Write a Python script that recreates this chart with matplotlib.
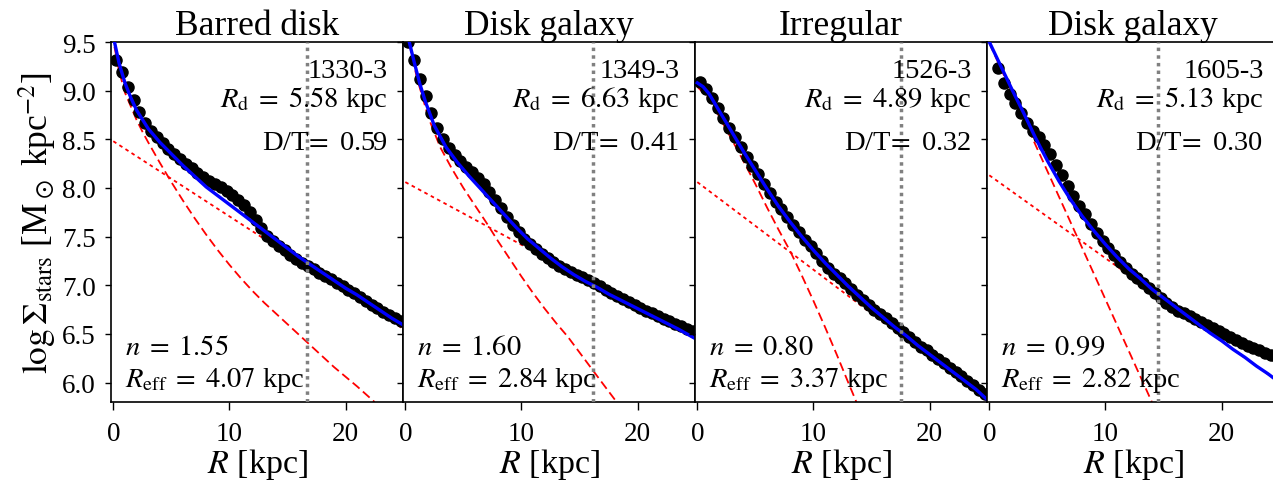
"""Surface-density profiles of four galaxies with bulge+disk decomposition."""
import matplotlib

matplotlib.use("Agg")
import matplotlib.pyplot as plt  # noqa: E402

plt.rcParams["font.family"] = "serif"
plt.rcParams["font.serif"] = ["Liberation Serif", "DejaVu Serif"]
plt.rcParams["mathtext.fontset"] = "stix"

# ---- values ----
TITLES = ["Barred disk", "Disk galaxy", "Irregular", "Disk galaxy"]
GAL_IDS = ["1330-3", "1349-3", "1526-3", "1605-3"]
R_DISK = [5.58, 6.63, 4.89, 5.13]
D_OVER_T = [0.59, 0.41, 0.32, 0.30]
SERSIC_N = [1.55, 1.60, 0.80, 0.99]
R_EFF = [4.07, 2.84, 3.37, 2.82]
R_MARK = [16.7, 16.2, 17.5, 14.5]  # grey dotted vertical line

R_KPC = [0.25, 0.75, 1.25, 1.75, 2.25, 2.75, 3.25, 3.75, 4.25, 4.75,
         5.25, 5.75, 6.25, 6.75, 7.25, 7.75, 8.25, 8.75, 9.25, 9.75,
         10.25, 10.75, 11.25, 11.75, 12.25, 12.75, 13.25, 13.75, 14.25, 14.75,
         15.25, 15.75, 16.25, 16.75, 17.25, 17.75, 18.25, 18.75, 19.25, 19.75,
         20.25, 20.75, 21.25, 21.75, 22.25, 22.75, 23.25, 23.75, 24.25, 24.75]

SIGMA_1330 = [9.31, 9.19, 9.04, 8.90, 8.78, 8.67, 8.59, 8.52, 8.46, 8.40,
              8.35, 8.30, 8.25, 8.20, 8.15, 8.11, 8.07, 8.04, 8.01, 7.97,
              7.93, 7.88, 7.82, 7.75, 7.67, 7.59, 7.51, 7.45, 7.40, 7.36,
              7.31, 7.27, 7.23, 7.20, 7.17, 7.13, 7.10, 7.06, 7.02, 6.99,
              6.95, 6.92, 6.88, 6.84, 6.80, 6.77, 6.73, 6.69, 6.66, 6.63]
SIGMA_1349 = [9.50, 9.31, 9.12, 8.94, 8.77, 8.62, 8.50, 8.41, 8.34, 8.28,
              8.22, 8.16, 8.10, 8.04, 7.96, 7.88, 7.79, 7.70, 7.62, 7.55,
              7.48, 7.42, 7.37, 7.32, 7.28, 7.24, 7.20, 7.17, 7.14, 7.11,
              7.08, 7.05, 7.02, 6.99, 6.95, 6.92, 6.89, 6.86, 6.83, 6.80,
              6.77, 6.74, 6.71, 6.68, 6.65, 6.63, 6.60, 6.58, 6.55, 6.53]
SIGMA_1526 = [9.09, 9.02, 8.92, 8.82, 8.72, 8.62, 8.52, 8.42, 8.32, 8.23,
              8.14, 8.04, 7.95, 7.86, 7.78, 7.70, 7.62, 7.55, 7.47, 7.40,
              7.33, 7.25, 7.18, 7.12, 7.07, 7.02, 6.96, 6.90, 6.85, 6.80,
              6.75, 6.70, 6.66, 6.61, 6.56, 6.52, 6.47, 6.42, 6.37, 6.33,
              6.28, 6.24, 6.20, 6.15, 6.11, 6.07, 6.02, 5.97, 5.92, 5.88]
SIGMA_1605 = [float("nan"), 9.23, 9.08, 8.97, 8.87, 8.77, 8.67, 8.59, 8.52, 8.44,
              8.35, 8.24, 8.13, 8.02, 7.92, 7.81, 7.73, 7.63, 7.54, 7.45,
              7.38, 7.31, 7.24, 7.18, 7.12, 7.07, 7.02, 6.97, 6.92, 6.87,
              6.82, 6.78, 6.74, 6.71, 6.68, 6.65, 6.62, 6.59, 6.56, 6.53,
              6.50, 6.47, 6.44, 6.41, 6.38, 6.35, 6.33, 6.30, 6.28, 6.26]

# total fit (blue)
FIT_R_1330 = [0.1, 0.5, 1.0, 1.5, 2.0, 3.0, 4.0, 5.0, 6.0, 7.0, 8.0, 9.0, 10.0, 11.0,
              12.0, 13.0, 14.0, 15.0, 16.0, 17.0, 18.0, 19.0, 20.0, 21.0, 22.0, 23.0, 24.0, 25.0]
FIT_1330 = [9.50, 9.28, 9.08, 8.93, 8.80, 8.61, 8.47, 8.35, 8.23, 8.12, 8.01, 7.92, 7.83, 7.74,
            7.65, 7.56, 7.47, 7.38, 7.29, 7.21, 7.13, 7.05, 6.97, 6.90, 6.82, 6.74, 6.66, 6.59]
FIT_R_1349 = [0.34, 0.75, 1.25, 1.75, 2.5, 3.5, 4.5, 5.5, 6.5, 7.5, 8.5, 9.5, 10.5, 11.5,
              12.5, 13.5, 14.5, 15.5, 16.5, 17.5, 18.5, 19.5, 20.5, 21.5, 22.5, 23.5, 25.0]
FIT_1349 = [9.50, 9.30, 9.07, 8.88, 8.64, 8.42, 8.26, 8.12, 7.99, 7.86, 7.73, 7.60, 7.48, 7.38,
            7.28, 7.19, 7.11, 7.04, 6.98, 6.91, 6.85, 6.79, 6.73, 6.67, 6.61, 6.55, 6.45]
FIT_R_1526 = [0.0, 0.5, 1.0, 2.0, 3.0, 4.0, 5.0, 6.0, 7.0, 8.0, 9.0, 10.0, 11.0, 12.0, 13.0,
              14.0, 15.0, 16.0, 17.0, 18.0, 19.0, 20.0, 21.0, 22.0, 23.0, 24.0, 25.0]
FIT_1526 = [9.08, 9.04, 8.97, 8.77, 8.57, 8.37, 8.18, 7.99, 7.81, 7.65, 7.50, 7.36, 7.23, 7.11,
            6.99, 6.88, 6.77, 6.67, 6.57, 6.48, 6.38, 6.29, 6.20, 6.11, 6.02, 5.93, 5.82]
FIT_R_1605 = [0.0, 1.0, 2.0, 3.0, 4.0, 5.0, 6.0, 7.0, 8.0, 9.0, 10.0, 11.0, 12.0, 13.0,
              14.0, 15.0, 16.0, 17.0, 18.0, 19.0, 20.0, 21.0, 22.0, 23.0, 24.0, 25.0]
FIT_1605 = [9.50, 9.25, 9.00, 8.76, 8.51, 8.28, 8.07, 7.88, 7.71, 7.56, 7.42, 7.29, 7.17, 7.07,
            6.96, 6.87, 6.78, 6.69, 6.60, 6.51, 6.43, 6.34, 6.26, 6.17, 6.09, 6.00]

# Sersic bulge (red dashed)
BULGE_R_1330 = [0.1, 0.5, 1.0, 2.0, 2.5, 3.0, 4.0, 5.0, 6.0, 7.0, 8.0, 9.0, 10.0, 11.0,
                12.0, 13.0, 14.0, 15.0, 16.0, 17.0, 18.0, 19.0, 20.0, 21.0, 22.5]
BULGE_1330 = [9.45, 9.20, 8.98, 8.70, 8.58, 8.47, 8.26, 8.06, 7.87, 7.69, 7.52, 7.36, 7.21, 7.07,
              6.94, 6.82, 6.71, 6.60, 6.49, 6.38, 6.27, 6.16, 6.06, 5.96, 5.80]
BULGE_R_1349 = [0.35, 1.0, 2.0, 3.0, 4.0, 5.0, 6.0, 7.0, 8.0, 9.0, 10.0, 11.0, 12.0, 13.0,
                14.0, 15.0, 16.0, 17.0, 18.2]
BULGE_1349 = [9.48, 9.13, 8.72, 8.42, 8.20, 8.00, 7.82, 7.64, 7.45, 7.27, 7.09, 6.92, 6.76, 6.61,
              6.47, 6.31, 6.15, 5.99, 5.80]
BULGE_R_1526 = [0.0, 1.0, 2.0, 3.0, 4.0, 5.0, 6.0, 7.0, 8.0, 9.0, 10.0, 11.0, 12.0, 13.0, 13.7]
BULGE_1526 = [9.04, 8.92, 8.71, 8.49, 8.27, 8.04, 7.80, 7.57, 7.35, 7.10, 6.84, 6.57, 6.29, 6.00, 5.80]
BULGE_R_1605 = [0.0, 7.67, 14.0]
BULGE_1605 = [9.49, 7.47, 5.80]

# exponential disk (red dotted)
DISK_R = [0.0, 25.0]
DISK_1330 = [8.48, 6.55]
DISK_1349 = [8.06, 6.45]
DISK_1526 = [8.06, 5.81]
DISK_1605 = [8.13, 6.00]

SIGMAS = [SIGMA_1330, SIGMA_1349, SIGMA_1526, SIGMA_1605]
FITS = [(FIT_R_1330, FIT_1330), (FIT_R_1349, FIT_1349),
        (FIT_R_1526, FIT_1526), (FIT_R_1605, FIT_1605)]
BULGES = [(BULGE_R_1330, BULGE_1330), (BULGE_R_1349, BULGE_1349),
          (BULGE_R_1526, BULGE_1526), (BULGE_R_1605, BULGE_1605)]
DISKS = [DISK_1330, DISK_1349, DISK_1526, DISK_1605]

# ---- layout (pixels of a 1273x485 canvas) ----
W, H = 1273.0, 485.0
LEFTS = [111, 403, 695, 987]
PANEL_W = 292

fig = plt.figure(figsize=(W / 100, H / 100), dpi=100)
axes = []
for i, left in enumerate(LEFTS):
    ax = fig.add_axes([left / W, 82 / H, PANEL_W / W, 360 / H],
                      sharey=axes[0] if axes else None)
    axes.append(ax)

    ax.plot(DISK_R, DISKS[i], color="red", ls=(0, (2, 2)), lw=1.3, zorder=1)
    ax.plot(*BULGES[i], color="red", ls=(0, (5, 2.5)), lw=1.3, zorder=1)
    ax.plot(R_KPC, SIGMAS[i], "o", color="black", ms=8, zorder=2)
    ax.plot(*FITS[i], color="blue", lw=2.4, zorder=3)
    ax.axvline(R_MARK[i], color="gray", ls=(0, (1, 1.2)), lw=2.5, zorder=4)

    ax.set_xlim(-0.2, 24.95)
    ax.set_ylim(5.8, 9.5)
    ax.set_xticks([0, 10, 20])
    ax.set_yticks([6.0, 6.5, 7.0, 7.5, 8.0, 8.5, 9.0, 9.5])
    ax.tick_params(axis="both", direction="out", labelsize=19.5, width=1.0)
    ax.tick_params(axis="x", length=5.5, pad=8)
    ax.tick_params(axis="y", length=4, pad=7)
    if i > 0:
        ax.tick_params(axis="y", labelleft=False)
    for sp in ax.spines.values():
        sp.set_linewidth(1.2)

    ax.set_title(TITLES[i], fontsize=25.5, pad=4)
    ax.set_xlabel(r"$R$ [kpc]", fontsize=24.5, labelpad=0)

    kw = dict(transform=ax.transAxes, ha="right", va="baseline", fontsize=20.5, zorder=5)
    ax.text(0.947, 0.903, GAL_IDS[i], **kw)
    ax.text(0.947, 0.821, rf"$R_{{\rm d}}\;=\;{R_DISK[i]:.2f}$ kpc", **kw)
    ax.text(0.947, 0.703, rf"D/T$\!=$ {D_OVER_T[i]:.2f}", **kw)

    kw = dict(transform=ax.transAxes, ha="left", va="baseline", fontsize=20.5, zorder=5)
    ax.text(0.048, 0.133, rf"$n\;=\;{SERSIC_N[i]:.2f}$", **kw)
    ax.text(0.048, 0.045, rf"$R_{{\rm eff}}\;=\;{R_EFF[i]:.2f}$ kpc", **kw)

axes[0].set_yticklabels(["6.0", "6.5", "7.0", "7.5", "8.0", "8.5", "9.0", "9.5"])
axes[0].set_ylabel(r"$\log\Sigma_{\rm stars}$ [M$_\odot$ kpc$^{-2}$]", fontsize=25.5, labelpad=2)

fig.savefig("out.png", dpi=100)
plt.close(fig)
